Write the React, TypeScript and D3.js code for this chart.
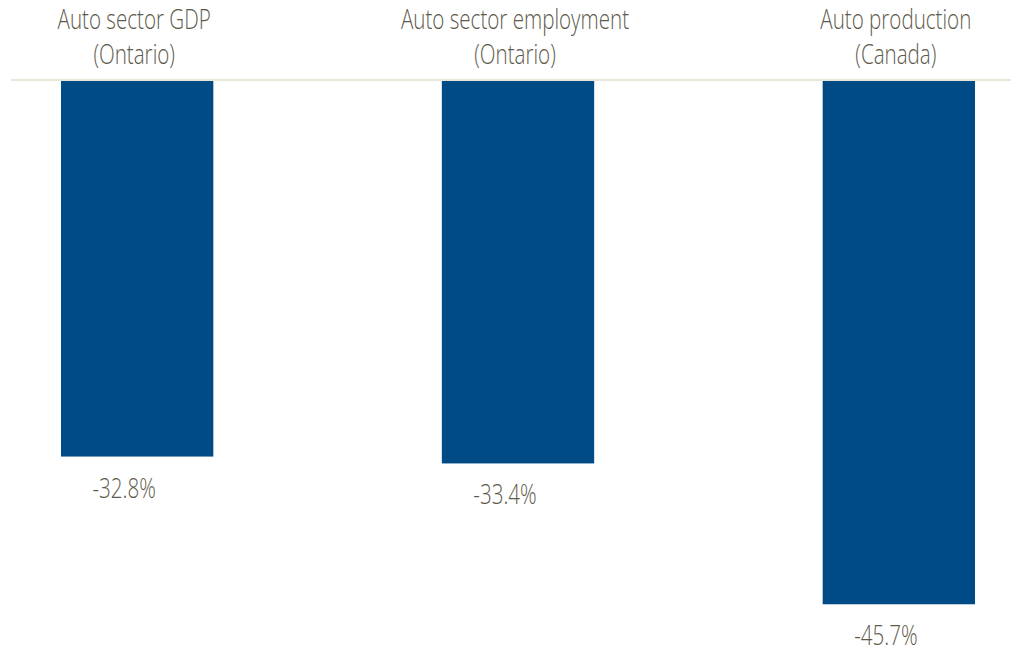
import React from "react";
import * as d3 from "d3";

const categories = ["Auto sector GDP|(Ontario)", "Auto sector employment|(Ontario)", "Auto production|(Canada)"];
const values = [-32.8, -33.4, -45.7];
const valueLabels = ["-32.8%", "-33.4%", "-45.7%"];

const W = 1011;
const H = 649;
const FONT = "'Open Sans', sans-serif";
const TEXT = "#5e5a4b";
const SX = 0.735;

export default function App() {
  const x = d3.scaleBand<string>().domain(categories).range([61, 975]).paddingInner(0.6).paddingOuter(0);
  const y = d3.scaleLinear().domain([0, -50]).range([81, 81 + 50 * 11.45]);
  const squeeze = (cx: number) => `translate(${cx},0) scale(${SX},1) translate(${-cx},0)`;
  return (
    <svg width={W} height={H} style={{ position: "absolute", left: 0, top: 0, background: "#fff" }}>
      {categories.map((c, i) => {
        const cx = (x(c) as number) + x.bandwidth() / 2;
        const lines = c.split("|");
        return (
          <g key={c}>
            <rect x={x(c)} y={y(0)} width={x.bandwidth()} height={y(values[i]) - y(0)} fill="#004b85" />
            {lines.map((l, j) => (
              <text key={j} x={cx - 3} y={29 + j * 35} textAnchor="middle" fontFamily={FONT} fontWeight={300} fontSize={28} fill={TEXT} transform={squeeze(cx - 3)}>
                {l}
              </text>
            ))}
            <text x={cx - 13} y={y(values[i]) + 41} textAnchor="middle" fontFamily={FONT} fontWeight={300} fontSize={28} fill={TEXT} transform={squeeze(cx - 13)}>
              {valueLabels[i]}
            </text>
          </g>
        );
      })}
      <line x1={11} x2={W} y1={y(0) - 1} y2={y(0) - 1} stroke="#e8e5da" strokeWidth={2} />
    </svg>
  );
}
